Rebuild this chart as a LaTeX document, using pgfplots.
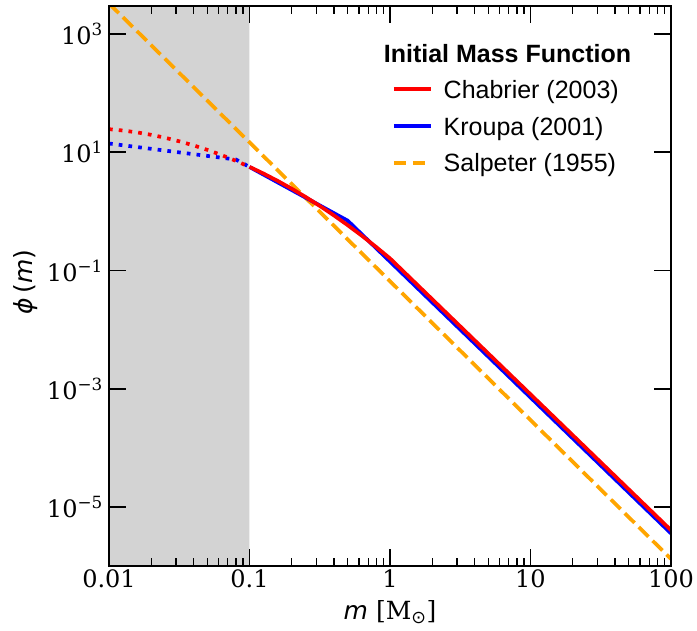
\documentclass[border=0pt]{standalone}
\usepackage{fontspec}
\setmainfont{DejaVu Serif}
\newfontfamily\legfont{Liberation Sans}
\newfontfamily\dvsans{DejaVu Sans}
\usepackage{pgfplots}
\pgfplotsset{compat=1.18}
\definecolor{cOrange}{RGB}{255,165,0}
\definecolor{cGray}{RGB}{211,211,211}
\begin{document}
\begin{tikzpicture}
\useasboundingbox (-109pt,-64pt) rectangle (588pt,566pt);
\begin{axis}[
  xmode=log, ymode=log,
  scale only axis, width=562pt, height=560pt,
  xmin=0.01, xmax=100, ymin=1e-6, ymax=3000,
  axis on top,
  xtick={0.01,0.1,1,10,100},
  xticklabels={0.01,0.1,1,10,100},
  ytick={1e-5,1e-3,1e-1,10,1000},
  yticklabels={10\textsuperscript{−5},10\textsuperscript{−3},10\textsuperscript{−1},10\textsuperscript{1},10\textsuperscript{3}},
  yminorticks=false,
  tick align=inside,
  major tick length=17pt, minor tick length=8pt,
  major tick style={black, line width=1.8pt},
  minor tick style={black, line width=1.4pt},
  axis line style={line width=2pt},
  ticklabel style={font=\fontsize{24}{24}\selectfont},
  yticklabel style={inner sep=6pt},
  xlabel={{\dvsans\itshape m} [M\textsubscript{\dvsans ⊙}]},
  xlabel style={at={(axis description cs:0.5,-0.0964)}, anchor=base, font=\fontsize{25}{25}\selectfont},
  ylabel={{\dvsans{\itshape ϕ}\,({\itshape m})}},
  ylabel style={at={(axis description cs:-0.1486,0.507)}, anchor=center, font=\fontsize{25}{25}\selectfont},
  legend style={at={(axis description cs:0.5036,0.8673)}, anchor=north west, draw=none, fill=none,
    inner sep=0pt, outer sep=0pt, row sep=12.7pt,
    font=\legfont\fontsize{25}{25}\selectfont,
    nodes={inner sep=0pt, text height=18pt, text depth=6pt},
    cells={anchor=base west},
    /tikz/every odd column/.style={column sep=11pt}},
  legend image code/.code={\draw[#1] (0pt,9pt) -- (37pt,9pt);},
]
% shaded region m < 0.1
\addplot[fill=cGray, draw=none, forget plot] coordinates {(0.01,1e-6) (0.1,1e-6) (0.1,3000) (0.01,3000)} \closedcycle;

% Salpeter (1955)
\addplot[cOrange, line width=3.7pt, dash pattern=on 13.7pt off 5.9pt, forget plot] coordinates {
(0.01,3311) (100,1.318e-6)};

% Kroupa (2001)
\addplot[blue, line width=3.7pt, dash pattern=on 3.7pt off 6.1pt, forget plot] coordinates {
(0.01,14.13) (0.08,7.569) (0.1,5.662)};
\addplot[blue, line width=3.7pt, forget plot] coordinates {
(0.1,5.662) (0.5,0.6989) (100,3.565e-6)};

% Chabrier (2003)
\addplot[red, line width=3.7pt, dash pattern=on 3.7pt off 6.1pt, forget plot] coordinates {
(0.01,24.70) (0.012589,23.43) (0.015849,21.78) (0.019953,19.82) (0.025119,17.66)
(0.031623,15.41) (0.039811,13.17) (0.050119,11.02) (0.063096,9.030) (0.079433,7.244) (0.1,5.690)};
\addplot[red, line width=3.7pt, forget plot] coordinates {
(0.1,5.690) (0.12589,4.379) (0.15849,3.298) (0.19953,2.433) (0.25119,1.757) (0.31623,1.243)
(0.39811,0.8608) (0.50119,0.5838) (0.63096,0.3878) (0.79433,0.2522) (1,0.1606) (100,4.034e-6)};

\addlegendimage{red, line width=3.7pt}
\addlegendentry{Chabrier (2003)}
\addlegendimage{blue, line width=3.7pt}
\addlegendentry{Kroupa (2001)}
\addlegendimage{cOrange, line width=3.7pt, dash pattern=on 12pt off 7pt}
\addlegendentry{Salpeter (1955)}

\node[font=\legfont\bfseries\fontsize{25}{25}\selectfont, anchor=base] at (rel axis cs:0.709,0.9) {Initial Mass Function};
\end{axis}
\end{tikzpicture}
\end{document}
